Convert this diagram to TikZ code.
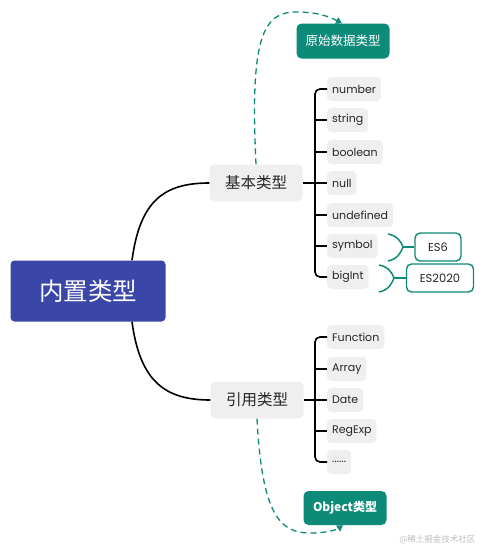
\documentclass[tikz,border=0pt]{standalone}
\usepackage{fontspec}
\setmainfont{Noto Sans CJK SC}
\newfontfamily\latinf{Poppins}
\usetikzlibrary{arrows.meta}
\definecolor{rootc}{HTML}{3A46A8}
\definecolor{tealc}{HTML}{0E8A78}
\definecolor{leafbg}{HTML}{EFEFEF}
\definecolor{wm}{HTML}{BDBDBD}
\tikzset{
  rootbox/.style={fill=rootc, text=white, rounded corners=4pt, minimum width=155pt, minimum height=61pt, inner sep=0pt, font=\fontsize{24.5}{24.5}\selectfont},
  midbox/.style={fill=leafbg, rounded corners=5pt, minimum width=93pt, minimum height=37pt, inner sep=0pt, font=\fontsize{15.5}{15.5}\selectfont, text=black!85},
  leafbox/.style={fill=leafbg, rounded corners=4pt, anchor=west, minimum height=24pt, inner xsep=5pt, inner ysep=0pt, font=\latinf\fontsize{11}{11}\selectfont, text=black!85},
  tealbox/.style={fill=tealc, text=white, rounded corners=5pt, inner sep=0pt, font=\fontsize{12.5}{12.5}\selectfont},
  esbox/.style={draw=tealc, line width=1.4pt, fill=white, rounded corners=5pt, inner sep=0pt, minimum height=28pt, font=\latinf\fontsize{11.5}{11.5}\selectfont, text=black!85},
  conn/.style={line width=1.6pt, black},
  dashconn/.style={tealc, line width=1.3pt, dash pattern=on 6pt off 4pt, -{Triangle[length=6pt,width=7pt]}},
  brace/.style={tealc, line width=1.5pt}
}
\begin{document}
\begin{tikzpicture}[x=1pt,y=-1pt]
\useasboundingbox (0,0) rectangle (482,549);
% root
\node[rootbox] (root) at (88,291) {内置类型};
% mid nodes
\node[midbox] (j1) at (256,183) {基本类型};
\node[midbox] (j2) at (257,400) {引用类型};
% callouts
\node[tealbox, minimum width=93pt, minimum height=35pt] (prim) at (343,41) {原始数据类型};
\node[tealbox, minimum width=83pt, minimum height=34pt, font=\bfseries\fontsize{12}{12}\selectfont] (obj) at (345,508) {Object类型};
% leaves of 基本类型
\node[leafbox] (n1) at (327,89) {number};
\node[leafbox] (n2) at (327,120) {string};
\node[leafbox] (n3) at (327,152) {boolean};
\node[leafbox] (n4) at (327,183) {null};
\node[leafbox] (n5) at (327,215) {undefined};
\node[leafbox] (n6) at (327,246) {symbol};
\node[leafbox] (n7) at (327,277) {bigInt};
% leaves of 引用类型
\node[leafbox] (r1) at (327,337) {Function};
\node[leafbox] (r2) at (327,369) {Array};
\node[leafbox] (r3) at (327,400) {Date};
\node[leafbox] (r4) at (327,431) {RegExp};
\node[leafbox] (r5) at (327,462) {\raisebox{-2pt}{......}};
% ES boxes
\node[esbox, minimum width=46pt] (es6) at (438,247) {ES6};
\node[esbox, minimum width=67pt] (es20) at (440,278) {ES2020};
% trunk coordinates
\coordinate (t1) at (315,183);
\coordinate (t2) at (315,400);
% root connectors
\draw[conn] ([xshift=44pt]root.north) .. controls +(8,-60) and +(-45,0) .. (j1.west);
\draw[conn] ([xshift=44pt]root.south) .. controls +(8,60) and +(-45,0) .. (j2.west);
% trunk 1
\draw[conn] (j1.east) -- (t1);
\draw[conn, rounded corners=5pt] (n1.west) -- (t1 |- n1.west) -- (t1 |- n7.west) -- (n7.west);
\foreach \n in {n2,n3,n4,n5,n6} \draw[conn] (t1 |- \n.west) -- (\n.west);
% trunk 2
\draw[conn] (j2.east) -- (t2);
\draw[conn, rounded corners=5pt] (r1.west) -- (t2 |- r1.west) -- (t2 |- r5.west) -- (r5.west);
\foreach \n in {r2,r3,r4} \draw[conn] (t2 |- \n.west) -- (\n.west);
% braces
\coordinate (b1) at (403,247);
\draw[brace] (388,234) .. controls (398,236) and (401,242) .. (b1) .. controls (401,252) and (398,259) .. (388,261);
\draw[brace] (b1) -- (es6.west);
\coordinate (b2) at (394,278);
\draw[brace] (379,265) .. controls (389,267) and (392,273) .. (b2) .. controls (392,283) and (389,290) .. (379,292);
\draw[brace] (b2) -- (es20.west);
% dashed callout connectors
\draw[dashconn] (j1.north) .. controls (250,40) and (262,12) .. (296,12) .. controls (318,12) and (330,17) .. ([xshift=-1pt]prim.north);
\draw[dashconn] (j2.south) .. controls (262,515) and (280,533) .. (310,533) .. controls (326,533) and (336,530) .. ([xshift=-2pt]obj.south);
% watermark
\node[text=wm, font=\fontsize{8.5}{8.5}\selectfont, anchor=east] (wmk) at (479,540) {@稀土掘金技术社区};
\end{tikzpicture}
\end{document}
